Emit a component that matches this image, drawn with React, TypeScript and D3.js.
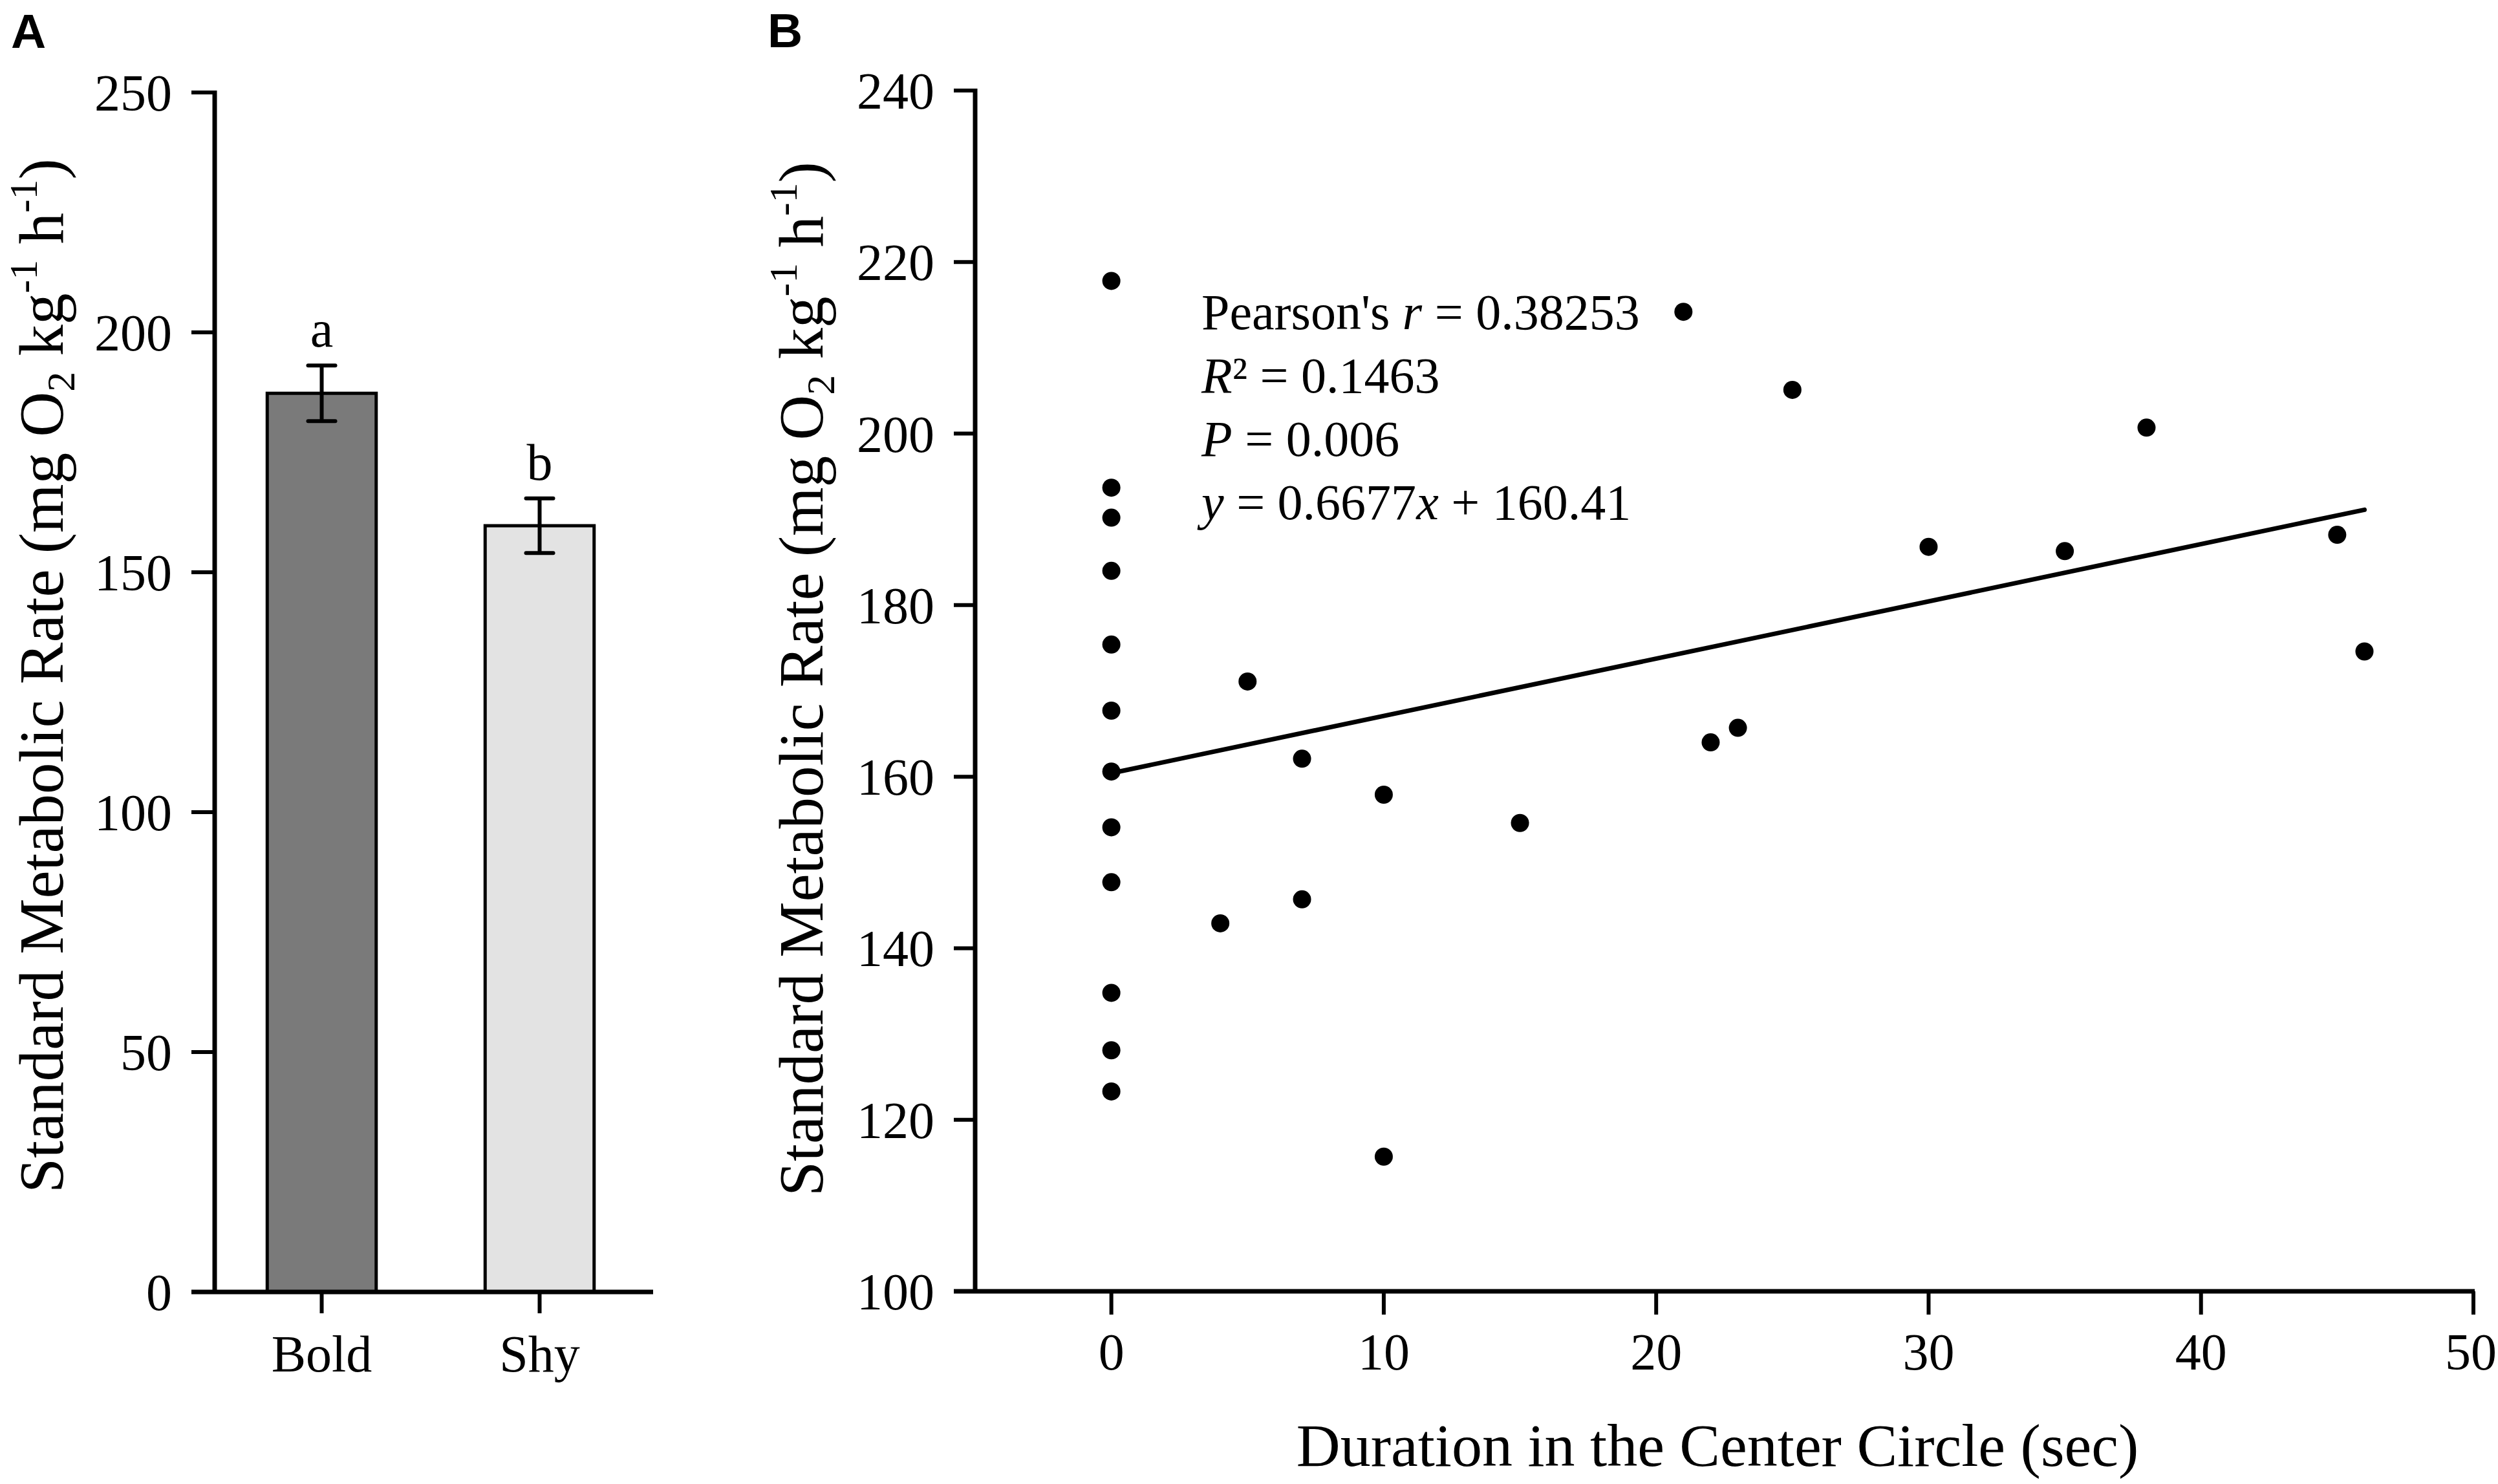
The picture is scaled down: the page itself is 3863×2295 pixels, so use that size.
import React from "react";
import * as d3 from "d3";

// ---------- Data ----------
const groups = ["Bold", "Shy"];
const groupMeans = [187.3, 159.7];
const groupSE = [5.8, 5.7];
const groupLetters = ["a", "b"];
const groupFills = ["#7a7a7a", "#e3e3e3"];
const yTicksA = [0, 50, 100, 150, 200, 250];

const durationX = [
  0, 0, 0, 0, 0, 0, 0, 0, 0, 0, 0, 0,
  5, 7, 10, 15, 7, 4, 10,
  21, 25, 38, 30, 35, 45, 46, 22, 23,
];
const smrY = [
  217.8, 193.7, 190.2, 184.0, 175.4, 167.7, 160.6, 154.1, 147.7, 134.8, 128.1, 123.3,
  171.1, 162.1, 157.9, 154.6, 145.7, 142.9, 115.7,
  214.2, 205.1, 200.7, 186.8, 186.3, 188.2, 174.6, 164.0, 165.7,
];
const slope = 0.6677;
const intercept = 160.41;
const fitRange = [0, 46];
const yTicksB = [100, 120, 140, 160, 180, 200, 220, 240];
const xTicksB = [0, 10, 20, 30, 40, 50];

const SERIF = "'Liberation Serif', 'Times New Roman', serif";
const SANS = "'Liberation Sans', Arial, sans-serif";

const W = 3863;
const H = 2295;
const AXW = 7;
const TICK = 33;

function YTitle({ x, y }: { x: number; y: number }) {
  return (
    <text
      transform={`translate(${x},${y}) rotate(-90)`}
      textAnchor="middle"
      fontFamily={SERIF}
      fontSize={97}
      fill="#000"
    >
      Standard Metabolic Rate (mg O
      <tspan fontSize={62} dy={18}>2</tspan>
      <tspan dy={-18}> kg</tspan>
      <tspan fontSize={62} dy={-40}>-1</tspan>
      <tspan dy={40}> h</tspan>
      <tspan fontSize={62} dy={-40}>-1</tspan>
      <tspan dy={40}>)</tspan>
    </text>
  );
}

export default function App() {
  // Panel A scales
  const yA = d3.scaleLinear().domain([0, 250]).range([1998, 143]);
  const xA = d3
    .scaleBand<string>()
    .domain(groups)
    .range([329, 1003])
    .paddingInner(0.5)
    .paddingOuter(0.25);
  const axisAx = 332;

  // Panel B scales
  const yB = d3.scaleLinear().domain([100, 240]).range([1997, 140]);
  const xB = d3.scaleLinear().domain([-5, 50]).range([1508, 3825]);
  const fitLine = d3
    .line<number>()
    .x((d) => xB(d))
    .y((d) => yB(slope * d + intercept));

  return (
    <svg
      width={W}
      height={H}
      viewBox={`0 0 ${W} ${H}`}
      style={{ position: "absolute", left: 0, top: 0, background: "#fff" }}
    >
      <rect x={0} y={0} width={W} height={H} fill="#fff" />

      {/* ---------- Panel A ---------- */}
      <text x={17} y={74} fontFamily={SANS} fontWeight="bold" fontSize={75}>
        A
      </text>

      {groups.map((g, i) => {
        const x0 = xA(g)!;
        const bw = xA.bandwidth();
        const cx = x0 + bw / 2;
        const top = yA(groupMeans[i] + groupSE[i]);
        const bot = yA(groupMeans[i] - groupSE[i]);
        return (
          <g key={g}>
            <rect
              x={x0}
              y={yA(groupMeans[i])}
              width={bw}
              height={yA(0) - yA(groupMeans[i])}
              fill={groupFills[i]}
              stroke="#000"
              strokeWidth={5}
            />
            <line x1={cx} x2={cx} y1={top} y2={bot} stroke="#000" strokeWidth={6} />
            <line x1={cx - 21} x2={cx + 21} y1={top} y2={top} stroke="#000" strokeWidth={6} strokeLinecap="round" />
            <line x1={cx - 21} x2={cx + 21} y1={bot} y2={bot} stroke="#000" strokeWidth={6} strokeLinecap="round" />
            <text x={cx} y={top - 29} textAnchor="middle" fontFamily={SERIF} fontSize={80}>
              {groupLetters[i]}
            </text>
            <line x1={cx} x2={cx} y1={yA(0)} y2={yA(0) + TICK} stroke="#000" strokeWidth={6} />
            <text x={cx} y={2121} textAnchor="middle" fontFamily={SERIF} fontSize={80}>
              {g}
            </text>
          </g>
        );
      })}

      {/* y axis A */}
      <line x1={axisAx} x2={axisAx} y1={yA(250) - 3} y2={yA(0) + 3} stroke="#000" strokeWidth={AXW} />
      {yTicksA.map((t) => (
        <g key={t}>
          <line x1={axisAx - TICK - 3} x2={axisAx} y1={yA(t)} y2={yA(t)} stroke="#000" strokeWidth={6} />
          <text
            x={axisAx - TICK - 33}
            y={yA(t)}
            dy="0.35em"
            textAnchor="end"
            fontFamily={SERIF}
            fontSize={80}
          >
            {t}
          </text>
        </g>
      ))}
      {/* x axis A */}
      <line x1={axisAx - TICK - 3} x2={1010} y1={yA(0)} y2={yA(0)} stroke="#000" strokeWidth={AXW} />

      <YTitle x={97} y={1045} />

      {/* ---------- Panel B ---------- */}
      <text x={1187} y={73} fontFamily={SANS} fontWeight="bold" fontSize={75}>
        B
      </text>

      {/* y axis B */}
      <line x1={xB(-5)} x2={xB(-5)} y1={yB(240) - 3} y2={yB(100) + 3} stroke="#000" strokeWidth={AXW} />
      {yTicksB.map((t) => (
        <g key={t}>
          <line x1={xB(-5) - TICK} x2={xB(-5)} y1={yB(t)} y2={yB(t)} stroke="#000" strokeWidth={6} />
          <text
            x={xB(-5) - TICK - 30}
            y={yB(t)}
            dy="0.35em"
            textAnchor="end"
            fontFamily={SERIF}
            fontSize={80}
          >
            {t}
          </text>
        </g>
      ))}
      {/* x axis B */}
      <line x1={xB(-5) - TICK} x2={xB(50) + 2} y1={yB(100)} y2={yB(100)} stroke="#000" strokeWidth={AXW} />
      {xTicksB.map((t) => (
        <g key={t}>
          <line x1={xB(t)} x2={xB(t)} y1={yB(100)} y2={yB(100) + TICK + 3} stroke="#000" strokeWidth={6} />
          <text
            x={t === 50 ? xB(t) - 4 : xB(t)}
            y={2118}
            textAnchor="middle"
            fontFamily={SERIF}
            fontSize={80}
          >
            {t}
          </text>
        </g>
      ))}

      {/* regression line */}
      <path d={fitLine(fitRange) || ""} fill="none" stroke="#000" strokeWidth={7} strokeLinecap="round" />

      {/* points */}
      {durationX.map((x, i) => (
        <circle key={i} cx={xB(x)} cy={yB(smrY[i])} r={14} fill="#000" />
      ))}

      {/* annotation */}
      <g fontFamily={SERIF} fontSize={78} fill="#000">
        <text x={1858} y={509}>
          Pearson's <tspan fontStyle="italic">r</tspan> = 0.38253
        </text>
        <text x={1858} y={607}>
          <tspan fontStyle="italic">R</tspan>² = 0.1463
        </text>
        <text x={1858} y={705}>
          <tspan fontStyle="italic">P</tspan> = 0.006
        </text>
        <text x={1858} y={803}>
          <tspan fontStyle="italic">y</tspan> = 0.6677<tspan fontStyle="italic">x</tspan> + 160.41
        </text>
      </g>

      <YTitle x={1272} y={1050} />

      <text x={2656} y={2267} textAnchor="middle" fontFamily={SERIF} fontSize={94}>
        Duration in the Center Circle (sec)
      </text>
    </svg>
  );
}
